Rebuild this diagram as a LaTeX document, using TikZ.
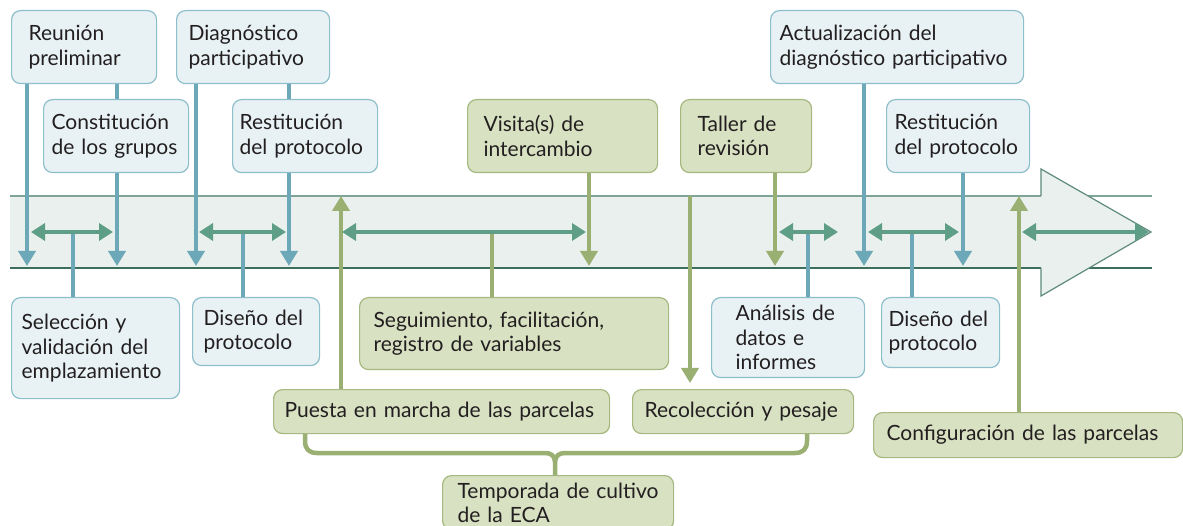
\documentclass[tikz,border=0pt]{standalone}
\usepackage{fontspec}
\setmainfont{Lato}
\usetikzlibrary{arrows.meta}
\definecolor{ink}{HTML}{231F20}
\definecolor{bfill}{HTML}{E8F2F5}
\definecolor{bline}{HTML}{8CBECB}
\definecolor{bdark}{HTML}{6DA8B8}
\definecolor{gfill}{HTML}{D8E1C2}
\definecolor{gline}{HTML}{A6B87F}
\definecolor{gdark}{HTML}{9AB073}
\definecolor{tealarr}{HTML}{5E9E86}
\definecolor{bandfill}{HTML}{EAF0ED}
\definecolor{bandhi}{HTML}{7EA597}
\definecolor{bandlo}{HTML}{3D6E5B}
\definecolor{bandtip}{HTML}{5E8B7B}

\begin{document}
\begin{tikzpicture}[x=1pt,y=-1pt,
    box/.style={rounded corners=9pt,line width=1.2pt,anchor=north west,align=left,inner ysep=4pt,text=ink,font=\fontsize{21}{24.5}\selectfont},
    bbox/.style={box,draw=bline,fill=bfill},
    gbox/.style={box,draw=gline,fill=gfill},
    barrow/.style={bdark,line width=4.5pt,-{Triangle[width=17pt,length=15pt]}},
    garrow/.style={gdark,line width=4.5pt,-{Triangle[width=17pt,length=15pt]}},
    tarrow/.style={tealarr,line width=4.5pt,{Triangle[width=17pt,length=14pt]}-{Triangle[width=17pt,length=14pt]}},
    bstem/.style={bdark,line width=4.5pt},
    gstem/.style={gdark,line width=4.5pt},
    brace/.style={gdark,line width=4.5pt}]
    \useasboundingbox (0,0) rectangle (1183,526);

    \fill[bandfill] (10,196) rectangle (1041,268);
    \draw[bandhi,line width=1.5pt] (10,196) -- (1152,196);
    \draw[bandlo,line width=1.5pt] (10,268) -- (1152,268);
    \fill[bandfill] (1041,169) -- (1151,232) -- (1041,296) -- cycle;
    \draw[bandtip,line width=1.2pt] (1041,196) -- (1041,169) -- (1151,232) -- (1041,296) -- (1041,268);
    \coordinate (hi) at (0,196);
    \coordinate (mid) at (0,232);
    \coordinate (lo) at (0,266);

    \node[bbox,inner xsep=17pt,text width=111pt,minimum height=73pt] (reunion) at (11,10) {Reunión\\preliminar};
    \node[bbox,inner xsep=12pt,text width=129pt,minimum height=73pt] (diag) at (176,10) {Diagnóstico\\participativo};
    \node[bbox,inner xsep=8pt,text width=129pt,minimum height=73pt] (constit) at (43,99) {Constitución\\de los grupos};
    \node[bbox,inner xsep=7pt,text width=131pt,minimum height=73pt] (restit) at (232,99) {Restitución\\del protocolo};
    \node[bbox,inner xsep=9pt,text width=235pt,minimum height=73pt] (actual) at (770,10) {Actualización del\\diagnóstico participativo};
    \node[bbox,inner xsep=8pt,text width=127pt,minimum height=73pt] (restit2) at (886,99) {Restitución\\del protocolo};
    \node[gbox,inner xsep=16pt,text width=158pt,minimum height=73pt] (visita) at (467,99) {Visita(s) de\\intercambio};
    \node[gbox,inner xsep=17pt,text width=97pt,minimum height=73pt] (taller) at (680,99) {Taller de\\revisión};

    \node[bbox,inner xsep=10pt,text width=148pt,minimum height=101pt] (selec) at (11,297) {Selección y\\validación del\\emplazamiento};
    \node[bbox,inner xsep=11pt,text width=105pt,minimum height=68pt] (diseno) at (192,297) {Diseño del\\protocolo};
    \node[gbox,inner xsep=14pt,text width=281pt,minimum height=72pt] (seguim) at (359,297) {Seguimiento, facilitación,\\registro de variables};
    \node[bbox,inner xsep=24pt,text width=105pt,minimum height=80pt] (analisis) at (711,297) {Análisis de\\datos e\\informes};
    \node[bbox,inner xsep=7pt,text width=104pt,minimum height=70pt] (diseno2) at (881,297) {Diseño del\\protocolo};
    \node[gbox,inner xsep=11pt,text width=314pt,minimum height=44pt] (puesta) at (273,389) {Puesta en marcha de las parcelas};
    \node[gbox,inner xsep=12pt,text width=197pt,minimum height=44pt] (recol) at (632,389) {Recolección y pesaje};
    \node[gbox,inner xsep=13pt,text width=283pt,minimum height=45pt] (config) at (873,412) {Configuración de las parcelas};
    \node[gbox,inner xsep=15pt,inner ysep=7pt,text width=201pt] (tempor) at (442,475) {Temporada de cultivo\\de la ECA};

    \draw[barrow] (reunion.south -| 27,0) -- (27,0 |- lo);
    \draw[bstem] (reunion.south -| 117,0) -- (constit.north -| 117,0);
    \draw[barrow] (constit.south -| 117,0) -- (117,0 |- lo);
    \draw[barrow] (diag.south -| 196,0) -- (196,0 |- lo);
    \draw[bstem] (diag.south -| 289,0) -- (restit.north -| 289,0);
    \draw[barrow] (restit.south -| 289,0) -- (289,0 |- lo);
    \draw[barrow] (actual.south -| 864,0) -- (864,0 |- lo);
    \draw[barrow] (restit2.south -| 963,0) -- (963,0 |- lo);
    \draw[garrow] (visita.south -| 589,0) -- (589,0 |- lo);
    \draw[garrow] (taller.south -| 775,0) -- (775,0 |- lo);
    \draw[garrow] (puesta.north -| 341,0) -- (341,0 |- hi);
    \draw[garrow,shorten >=6pt] (690,0 |- hi) -- (recol.north -| 690,0);
    \draw[garrow] (config.north -| 1019,0) -- (1019,0 |- hi);

    \draw[bstem] (selec.north -| 73,0) -- (73,0 |- mid);
    \draw[bstem] (diseno.north -| 243,0) -- (243,0 |- mid);
    \draw[gstem] (seguim.north -| 492,0) -- (492,0 |- mid);
    \draw[bstem] (analisis.north -| 808,0) -- (808,0 |- mid);
    \draw[bstem] (diseno2.north -| 912,0) -- (912,0 |- mid);
    \draw[tarrow] (31,0 |- mid) -- (113,0 |- mid);
    \draw[tarrow] (199,0 |- mid) -- (286,0 |- mid);
    \draw[tarrow] (342,0 |- mid) -- (586,0 |- mid);
    \draw[tarrow] (779,0 |- mid) -- (838,0 |- mid);
    \draw[tarrow] (868,0 |- mid) -- (959,0 |- mid);
    \draw[tarrow] (1022,0 |- mid) -- (1149,0 |- mid);

    \draw[brace] (puesta.south -| 305,0) -- (305,441) .. controls (305,449) and (309,453) .. (317,453) -- (545,453) .. controls (551,453) and (555,456) .. (555,462) -- (tempor.north -| 555,0);
    \draw[brace] (recol.south -| 807,0) -- (807,441) .. controls (807,449) and (803,453) .. (795,453) -- (565,453) .. controls (559,453) and (555,456) .. (555,462);
\end{tikzpicture}
\end{document}
